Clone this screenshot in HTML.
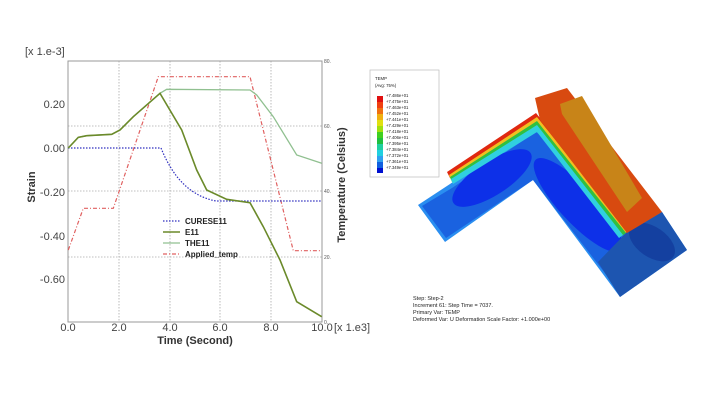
<!DOCTYPE html>
<html><head><meta charset="utf-8"><style>
html,body{margin:0;padding:0;background:#fff;}
svg{display:block;font-family:"Liberation Sans",sans-serif;}
</style></head><body>
<svg width="720" height="404" viewBox="0 0 720 404" xmlns="http://www.w3.org/2000/svg">
<rect width="720" height="404" fill="#fff"/>
<g stroke="#aaa" stroke-width="0.8" stroke-dasharray="1.5,1.5" fill="none">
<line x1="119" y1="61" x2="119" y2="322"/><line x1="170" y1="61" x2="170" y2="322"/>
<line x1="220" y1="61" x2="220" y2="322"/><line x1="271" y1="61" x2="271" y2="322"/>
<line x1="68" y1="126" x2="322" y2="126"/><line x1="68" y1="191" x2="322" y2="191"/>
<line x1="68" y1="257" x2="322" y2="257"/>
</g>
<rect x="68" y="61" width="254" height="261" fill="none" stroke="#999" stroke-width="1"/>
<g font-size="11" fill="#444" text-anchor="end">
<text x="65" y="108">0.20</text><text x="65" y="152">0.00</text>
<text x="65" y="196">-0.20</text><text x="65" y="240">-0.40</text><text x="65" y="283">-0.60</text>
</g>
<text x="25" y="55" font-size="11" fill="#444">[x 1.e-3]</text>
<g font-size="5" fill="#555"><text x="324" y="63">80.</text><text x="324" y="128">60.</text><text x="324" y="193">40.</text><text x="324" y="259">20.</text><text x="324" y="324">0.</text></g>
<g font-size="11" fill="#444" text-anchor="middle">
<text x="68" y="331">0.0</text><text x="119" y="331">2.0</text><text x="170" y="331">4.0</text>
<text x="220" y="331">6.0</text><text x="271" y="331">8.0</text><text x="322" y="331">10.0</text>
</g>
<text x="334" y="331" font-size="11" fill="#444">[x 1.e3]</text>
<text x="195" y="344" font-size="11" font-weight="bold" fill="#333" text-anchor="middle">Time (Second)</text>
<text transform="translate(35,187) rotate(-90)" font-size="11" font-weight="bold" fill="#333" text-anchor="middle">Strain</text>
<text transform="translate(345,185) rotate(-90)" font-size="11" font-weight="bold" fill="#333" text-anchor="middle">Temperature (Celsius)</text>
<polyline fill="none" stroke="#e06060" stroke-width="1.2" stroke-dasharray="4,2,1,2" points="68.3,250 83.3,208.3 113.3,208.3 158.3,76.7 250,76.7 293.3,250.7 321.7,250.7"/>
<path fill="none" stroke="#3030c0" stroke-width="1.2" stroke-dasharray="1.5,1.5" d="M68,148 L161,148 C170,170 185,195 216,201 L322,201"/>
<polyline fill="none" stroke="#90c090" stroke-width="1.3" points="68.3,148 78.3,137.3 86.7,135.7 111.7,134.3 120,130 133.3,116.7 160,93.3 166.7,89.3 250,90 256.7,95 273.3,116.7 296.7,155 321.7,163.3"/>
<polyline fill="none" stroke="#6b8a2a" stroke-width="1.6" points="68.3,148 78.3,137.3 86.7,135.7 111.7,134.3 120,130 133.3,116.7 160,93.3 181.7,130 196.7,170 206.7,190 226.7,199.3 250,202.7 263.3,226.7 280,260 296.7,301.7 321.7,316.7"/>
<g font-size="8" font-weight="bold" fill="#222">
<line x1="163" y1="221" x2="180" y2="221" stroke="#3030c0" stroke-width="1.2" stroke-dasharray="1.5,1.5"/><text x="185" y="224">CURESE11</text>
<line x1="163" y1="232" x2="180" y2="232" stroke="#6b8a2a" stroke-width="1.6"/><text x="185" y="235">E11</text>
<line x1="163" y1="243" x2="180" y2="243" stroke="#90c090" stroke-width="1.3"/><text x="185" y="246">THE11</text>
<line x1="163" y1="254" x2="180" y2="254" stroke="#e06060" stroke-width="1.2" stroke-dasharray="4,2,1,2"/><text x="185" y="257">Applied_temp</text>
</g>
<!-- contour legend -->
<rect x="370" y="70" width="69" height="107" fill="#fff" stroke="#bbb" stroke-width="0.7"/>
<g font-size="4.3" fill="#222"><text x="375" y="80">TEMP</text><text x="375" y="87">(Avg: 75%)</text></g>
<g>
<rect x="377" y="96" width="6" height="6" fill="#e01010"/><rect x="377" y="102" width="6" height="6" fill="#f04010"/>
<rect x="377" y="108" width="6" height="6" fill="#f07010"/><rect x="377" y="114" width="6" height="6" fill="#f0b010"/>
<rect x="377" y="120" width="6" height="6" fill="#e0e010"/><rect x="377" y="126" width="6" height="6" fill="#a0e010"/>
<rect x="377" y="132" width="6" height="6" fill="#40d020"/><rect x="377" y="138" width="6" height="6" fill="#20c040"/>
<rect x="377" y="144" width="6" height="6" fill="#20d0a0"/><rect x="377" y="150" width="6" height="6" fill="#20d0e0"/>
<rect x="377" y="156" width="6" height="6" fill="#30a0f0"/><rect x="377" y="162" width="6" height="6" fill="#1060e0"/>
<rect x="377" y="168" width="6" height="5" fill="#0010d0"/>
</g>
<g font-size="4.2" fill="#222">
<text x="386" y="97">+7.486e+01</text><text x="386" y="103">+7.475e+01</text><text x="386" y="109">+7.463e+01</text>
<text x="386" y="115">+7.452e+01</text><text x="386" y="121">+7.441e+01</text><text x="386" y="127">+7.429e+01</text>
<text x="386" y="133">+7.418e+01</text><text x="386" y="139">+7.406e+01</text><text x="386" y="145">+7.395e+01</text>
<text x="386" y="151">+7.384e+01</text><text x="386" y="157">+7.372e+01</text><text x="386" y="163">+7.361e+01</text>
<text x="386" y="169">+7.349e+01</text>
</g>
<!-- shape -->
<polygon points="418,205 450,184 537,124 662,212 687,250 620,297 533,180 445,242" fill="#2a8ef0"/>
<polygon points="422,206 452,188 536,132 640,210 618,290 533,180 446,238" fill="#1a62e0"/>
<ellipse cx="492" cy="178" rx="46" ry="17" transform="rotate(-33 492 178)" fill="#0d30e8"/>
<ellipse cx="578" cy="205" rx="62" ry="18" transform="rotate(47 578 205)" fill="#0d30e8"/>
<polygon points="626,233 662,212 687,250 620,297 598,262" fill="#1d55b0"/>
<ellipse cx="652" cy="242" rx="26" ry="15" transform="rotate(35 652 242)" fill="#1440a0"/>
<polygon points="447,172 536,113 630,230 626,233 537,122 450,178" fill="#e02810"/>
<polygon points="449,175 537,117 628,231 624,234 537,125 451,180" fill="#f0c020"/>
<polygon points="450,177 537,121 626,233 622,236 537,128 452,182" fill="#30c040"/>
<polygon points="451,179 537,125 623,235 619,238 537,132 453,184" fill="#30d0e0"/>
<polygon points="535,98 567,88 662,212 627,233 540,120" fill="#d84a10"/>
<polygon points="560,104 582,96 642,198 627,212 562,114" fill="#c88418"/>
<g font-size="5.5" fill="#222">
<text x="413" y="300">Step: Step-2</text>
<text x="413" y="307">Increment     61: Step Time =     7037.</text>
<text x="413" y="314">Primary Var: TEMP</text>
<text x="413" y="321">Deformed Var: U   Deformation Scale Factor: +1.000e+00</text>
</g>
</svg>
</body></html>
